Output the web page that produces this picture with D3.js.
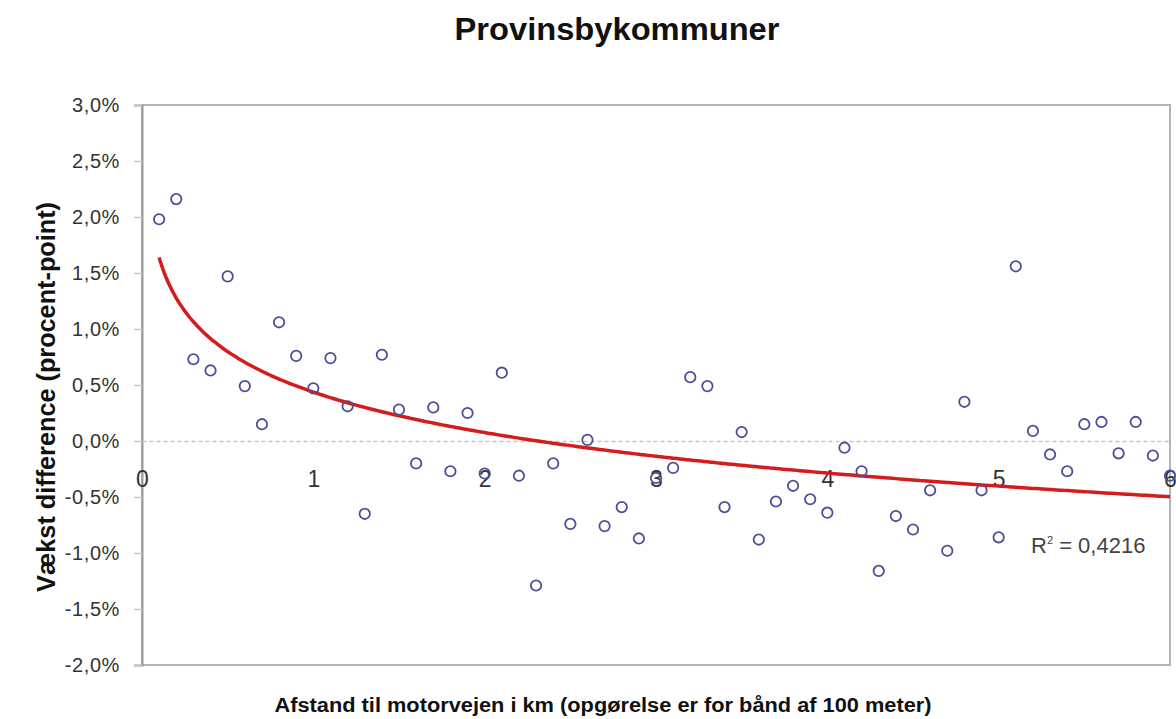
<!DOCTYPE html>
<html>
<head>
<meta charset="utf-8">
<script src="https://cdn.jsdelivr.net/npm/d3@7"></script>
<style>
  html, body { margin: 0; padding: 0; background: #fff; }
  svg { display: block; font-family: "Liberation Sans", Arial, sans-serif; }
  .y.axis text { font-size: 20px; fill: #333; letter-spacing: 0.6px; }
  .x.axis text { font-size: 23px; fill: #333; }
</style>
</head>
<body>
<svg id="chart"></svg>
<script>
// distance to the motorway, km (bands of 100 m)
const distKm = [
  0.1, 0.2, 0.3, 0.4, 0.5, 0.6, 0.7, 0.8, 0.9, 1.0,
  1.1, 1.2, 1.3, 1.4, 1.5, 1.6, 1.7, 1.8, 1.9, 2.0,
  2.1, 2.2, 2.3, 2.4, 2.5, 2.6, 2.7, 2.8, 2.9, 3.0,
  3.1, 3.2, 3.3, 3.4, 3.5, 3.6, 3.7, 3.8, 3.9, 4.0,
  4.1, 4.2, 4.3, 4.4, 4.5, 4.6, 4.7, 4.8, 4.9, 5.0,
  5.1, 5.2, 5.3, 5.4, 5.5, 5.6, 5.7, 5.8, 5.9, 6.0
];
// growth difference, procent-point
const growthDiff = [
  1.98, 2.16, 0.73, 0.63, 1.47, 0.49, 0.15, 1.06, 0.76, 0.47,
  0.74, 0.31, -0.65, 0.77, 0.28, -0.20, 0.30, -0.27, 0.25, -0.29,
  0.61, -0.31, -1.29, -0.20, -0.74, 0.01, -0.76, -0.59, -0.87, -0.33,
  -0.24, 0.57, 0.49, -0.59, 0.08, -0.88, -0.54, -0.40, -0.52, -0.64,
  -0.06, -0.27, -1.16, -0.67, -0.79, -0.44, -0.98, 0.35, -0.44, -0.86,
  1.56, 0.09, -0.12, -0.27, 0.15, 0.17, -0.11, 0.17, -0.13, -0.31
];
const xTicks = [0, 1, 2, 3, 4, 5, 6];
const yTicks = [-2, -1.5, -1, -0.5, 0, 0.5, 1, 1.5, 2, 2.5, 3];
const rSquaredLabel = "0,4216";

const chartTitle = "Provinsbykommuner";
const xTitle = "Afstand til motorvejen i km (opgørelse er for bånd af 100 meter)";
const yTitle = "Vækst difference (procent-point)";

const W = 1176, H = 719;
const margin = {top: 105, right: 6, bottom: 54, left: 142};

const da = d3.formatLocale({decimal: ",", thousands: ".", grouping: [3], currency: ["", " kr"], minus: "-"});
const fmtPct = v => da.format(".1f")(v) + "%";

let svg = d3.select("#chart").attr("width", W).attr("height", H);

let xscale = d3.scaleLinear().domain([0, 6]).range([margin.left, W - margin.right]);
let yscale = d3.scaleLinear().domain([-2, 3]).range([H - margin.bottom, margin.top]);

// plot frame
svg.append("rect")
    .attr("x", xscale(0)).attr("y", yscale(3))
    .attr("width", xscale(6) - xscale(0)).attr("height", yscale(-2) - yscale(3))
    .attr("fill", "none").attr("stroke", "#b4b4b4").attr("stroke-width", 2);

// y axis
let gy = svg.append("g")
    .attr("class", "y axis")
    .attr("transform", `translate(${xscale(0)}, 0)`)
    .call(d3.axisLeft(yscale).tickValues(yTicks).tickFormat(fmtPct).tickSize(8).tickPadding(14));
gy.select(".domain").attr("stroke", "#9a9a9a").attr("stroke-width", 2);
gy.selectAll(".tick line").attr("stroke", "#c8c8c8").attr("stroke-width", 1.5);

// x axis crossing at 0
let gx = svg.append("g")
    .attr("class", "x axis")
    .attr("transform", `translate(0, ${yscale(0)})`)
    .call(d3.axisBottom(xscale).tickValues(xTicks).tickFormat(d3.format("d")).tickSize(0).tickPadding(30));
gx.select(".domain").attr("stroke", "#c4c4c4").attr("stroke-width", 1.5).attr("stroke-dasharray", "4,3");

// log trend fitted from the points: y = a*ln(x) + b
const lx = distKm.map(Math.log);
const mx = d3.mean(lx), my = d3.mean(growthDiff);
const a = d3.sum(lx, (v, i) => (v - mx) * (growthDiff[i] - my)) / d3.sum(lx, v => (v - mx) ** 2);
const b = my - a * mx;

let line = d3.line().x(d => xscale(d)).y(d => yscale(a * Math.log(d) + b)).curve(d3.curveMonotoneX);
svg.append("path")
    .datum(d3.range(distKm[0], d3.max(distKm) + 1e-9, 0.02))
    .attr("class", "trend")
    .attr("d", line)
    .attr("fill", "none")
    .attr("stroke", "#d41c1c")
    .attr("stroke-width", 3.5);

// points
svg.append("g").selectAll("circle")
    .data(distKm.map((d, i) => [d, growthDiff[i]]))
    .join("circle")
    .attr("cx", d => xscale(d[0]))
    .attr("cy", d => yscale(d[1]))
    .attr("r", 5.2)
    .attr("fill", "none")
    .attr("stroke", "#4e4e98")
    .attr("stroke-width", 1.8);

// R squared label
let r2 = svg.append("text")
    .attr("x", 1031).attr("y", 553)
    .attr("font-size", 22).attr("fill", "#444");
r2.append("tspan").text("R");
r2.append("tspan").attr("font-size", 11).attr("dy", -9).text("2");
r2.append("tspan").attr("dy", 9).text(" = " + rSquaredLabel);

// titles
svg.append("text")
    .attr("x", 617).attr("y", 40)
    .attr("text-anchor", "middle")
    .attr("font-size", 31).attr("font-weight", "bold").attr("fill", "#111")
    .attr("textLength", 325).attr("lengthAdjust", "spacingAndGlyphs")
    .text(chartTitle);

svg.append("text")
    .attr("x", 603).attr("y", 712)
    .attr("text-anchor", "middle")
    .attr("font-size", 20).attr("font-weight", "bold").attr("fill", "#111")
    .attr("textLength", 657).attr("lengthAdjust", "spacingAndGlyphs")
    .text(xTitle);

svg.append("text")
    .attr("transform", `translate(55, 397) rotate(-90)`)
    .attr("text-anchor", "middle")
    .attr("font-size", 25).attr("font-weight", "bold").attr("fill", "#111")
    .attr("textLength", 390).attr("lengthAdjust", "spacingAndGlyphs")
    .text(yTitle);
</script>
</body>
</html>
